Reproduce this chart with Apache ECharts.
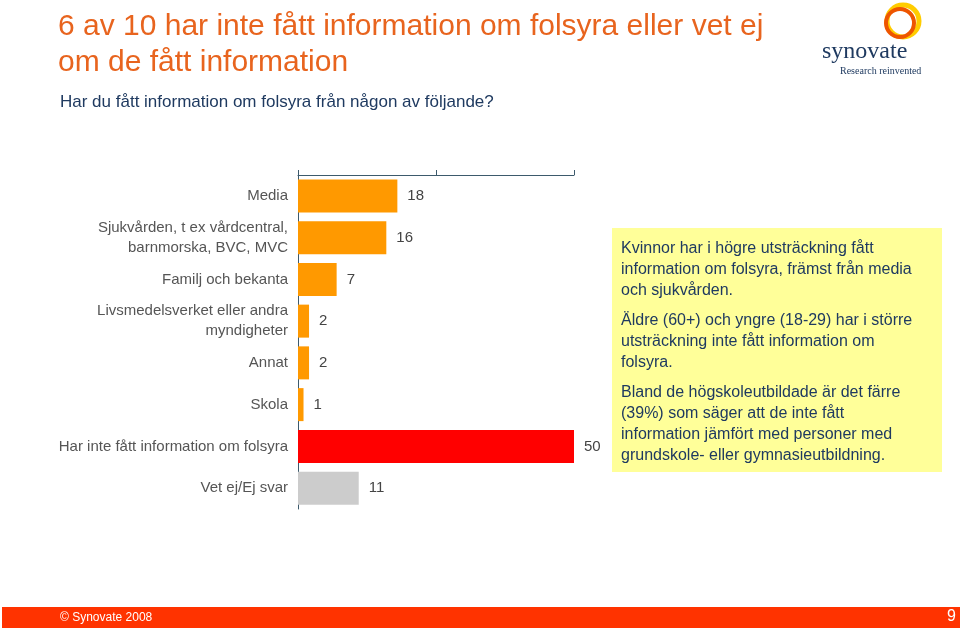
<!DOCTYPE html>
<html><head><meta charset="utf-8">
<script src="https://cdn.jsdelivr.net/npm/echarts@6/dist/echarts.min.js"></script>
<style>html,body{margin:0;padding:0;background:#fff}#c{width:960px;height:629px}</style>
</head><body><div id="c"></div>
<script>
const categories = ['Media','Sjukvården, t ex vårdcentral,\nbarnmorska, BVC, MVC','Familj och bekanta','Livsmedelsverket eller andra\nmyndigheter','Annat','Skola','Har inte fått information om folsyra','Vet ej/Ej svar'];
const values = [18,16,7,2,2,1,50,11];
const barColors = ['#ff9900','#ff9900','#ff9900','#ff9900','#ff9900','#ff9900','#ff0000','#cccccc'];
const F = '"Liberation Sans", Arial, sans-serif';
const chart = echarts.init(document.getElementById('c'));
const box1 = 'Kvinnor har i högre utsträckning fått\ninformation om folsyra, främst från media\noch sjukvården.';
const box2 = 'Äldre (60+) och yngre (18-29) har i större\nutsträckning inte fått information om\nfolsyra.';
const box3 = 'Bland de högskoleutbildade är det färre\n(39%) som säger att de inte fått\ninformation jämfört med personer med\ngrundskole- eller gymnasieutbildning.';
chart.setOption({
 animation:false,
 grid:{left:298,top:175,width:276,height:334},
 xAxis:{type:'value',position:'top',min:0,max:50,interval:25,
   axisLine:{show:true,lineStyle:{color:'#3d5a6c'}},axisTick:{show:true,length:5,inside:false,lineStyle:{color:'#3d5a6c'}},
   axisLabel:{show:false},splitLine:{show:false}},
 yAxis:{type:'category',inverse:true,data:categories,
   axisLine:{lineStyle:{color:'#3d5a6c'}},axisTick:{show:false},
   axisLabel:{color:'#555',fontFamily:F,fontSize:15,lineHeight:20,margin:10,align:'right'}},
 series:[{type:'bar',barWidth:33,
   data:values.map((v,i)=>({value:v,itemStyle:{color:barColors[i]}})),
   label:{show:true,position:'right',distance:10,color:'#444',fontFamily:F,fontSize:15}}],
 graphic:[
  {type:'text',left:58,top:9,style:{text:'6 av 10 har inte fått information om folsyra eller vet ej\nom de fått information',font:'30px '+F,fill:'#e8641e',lineHeight:36}},
  {type:'text',left:60,top:94,style:{text:'Har du fått information om folsyra från någon av följande?',font:'17px '+F,fill:'#1f3a60'}},
  {type:'rect',shape:{x:612,y:228,width:330,height:244},style:{fill:'#ffff99'}},
  {type:'text',left:621,top:238,style:{text:box1,font:'16px '+F,fill:'#1f3a60',lineHeight:21}},
  {type:'text',left:621,top:310,style:{text:box2,font:'16px '+F,fill:'#1f3a60',lineHeight:21}},
  {type:'text',left:621,top:382,style:{text:box3,font:'16px '+F,fill:'#1f3a60',lineHeight:21}},
  {type:'rect',shape:{x:2,y:607,width:958,height:21},style:{fill:'#ff3300'}},
  {type:'text',left:60,top:612,style:{text:'© Synovate 2008',font:'12px '+F,fill:'#fff'}},
  {type:'text',left:947,top:609,style:{text:'9',font:'16px '+F,fill:'#fff'}},
  {type:'circle',shape:{cx:903,cy:21,r:16},style:{fill:'none',stroke:'#ffcc00',lineWidth:5}},
  {type:'circle',shape:{cx:900,cy:23,r:14},style:{fill:'none',stroke:'#ee5500',lineWidth:4}},
  {type:'text',left:822,top:40,style:{text:'synovate',font:'24px "Liberation Serif", serif',fill:'#1f3a60'}},
  {type:'text',left:840,top:66,style:{text:'Research reinvented',font:'10px "Liberation Serif", serif',fill:'#1f3a60'}}
 ]
});
</script></body></html>
